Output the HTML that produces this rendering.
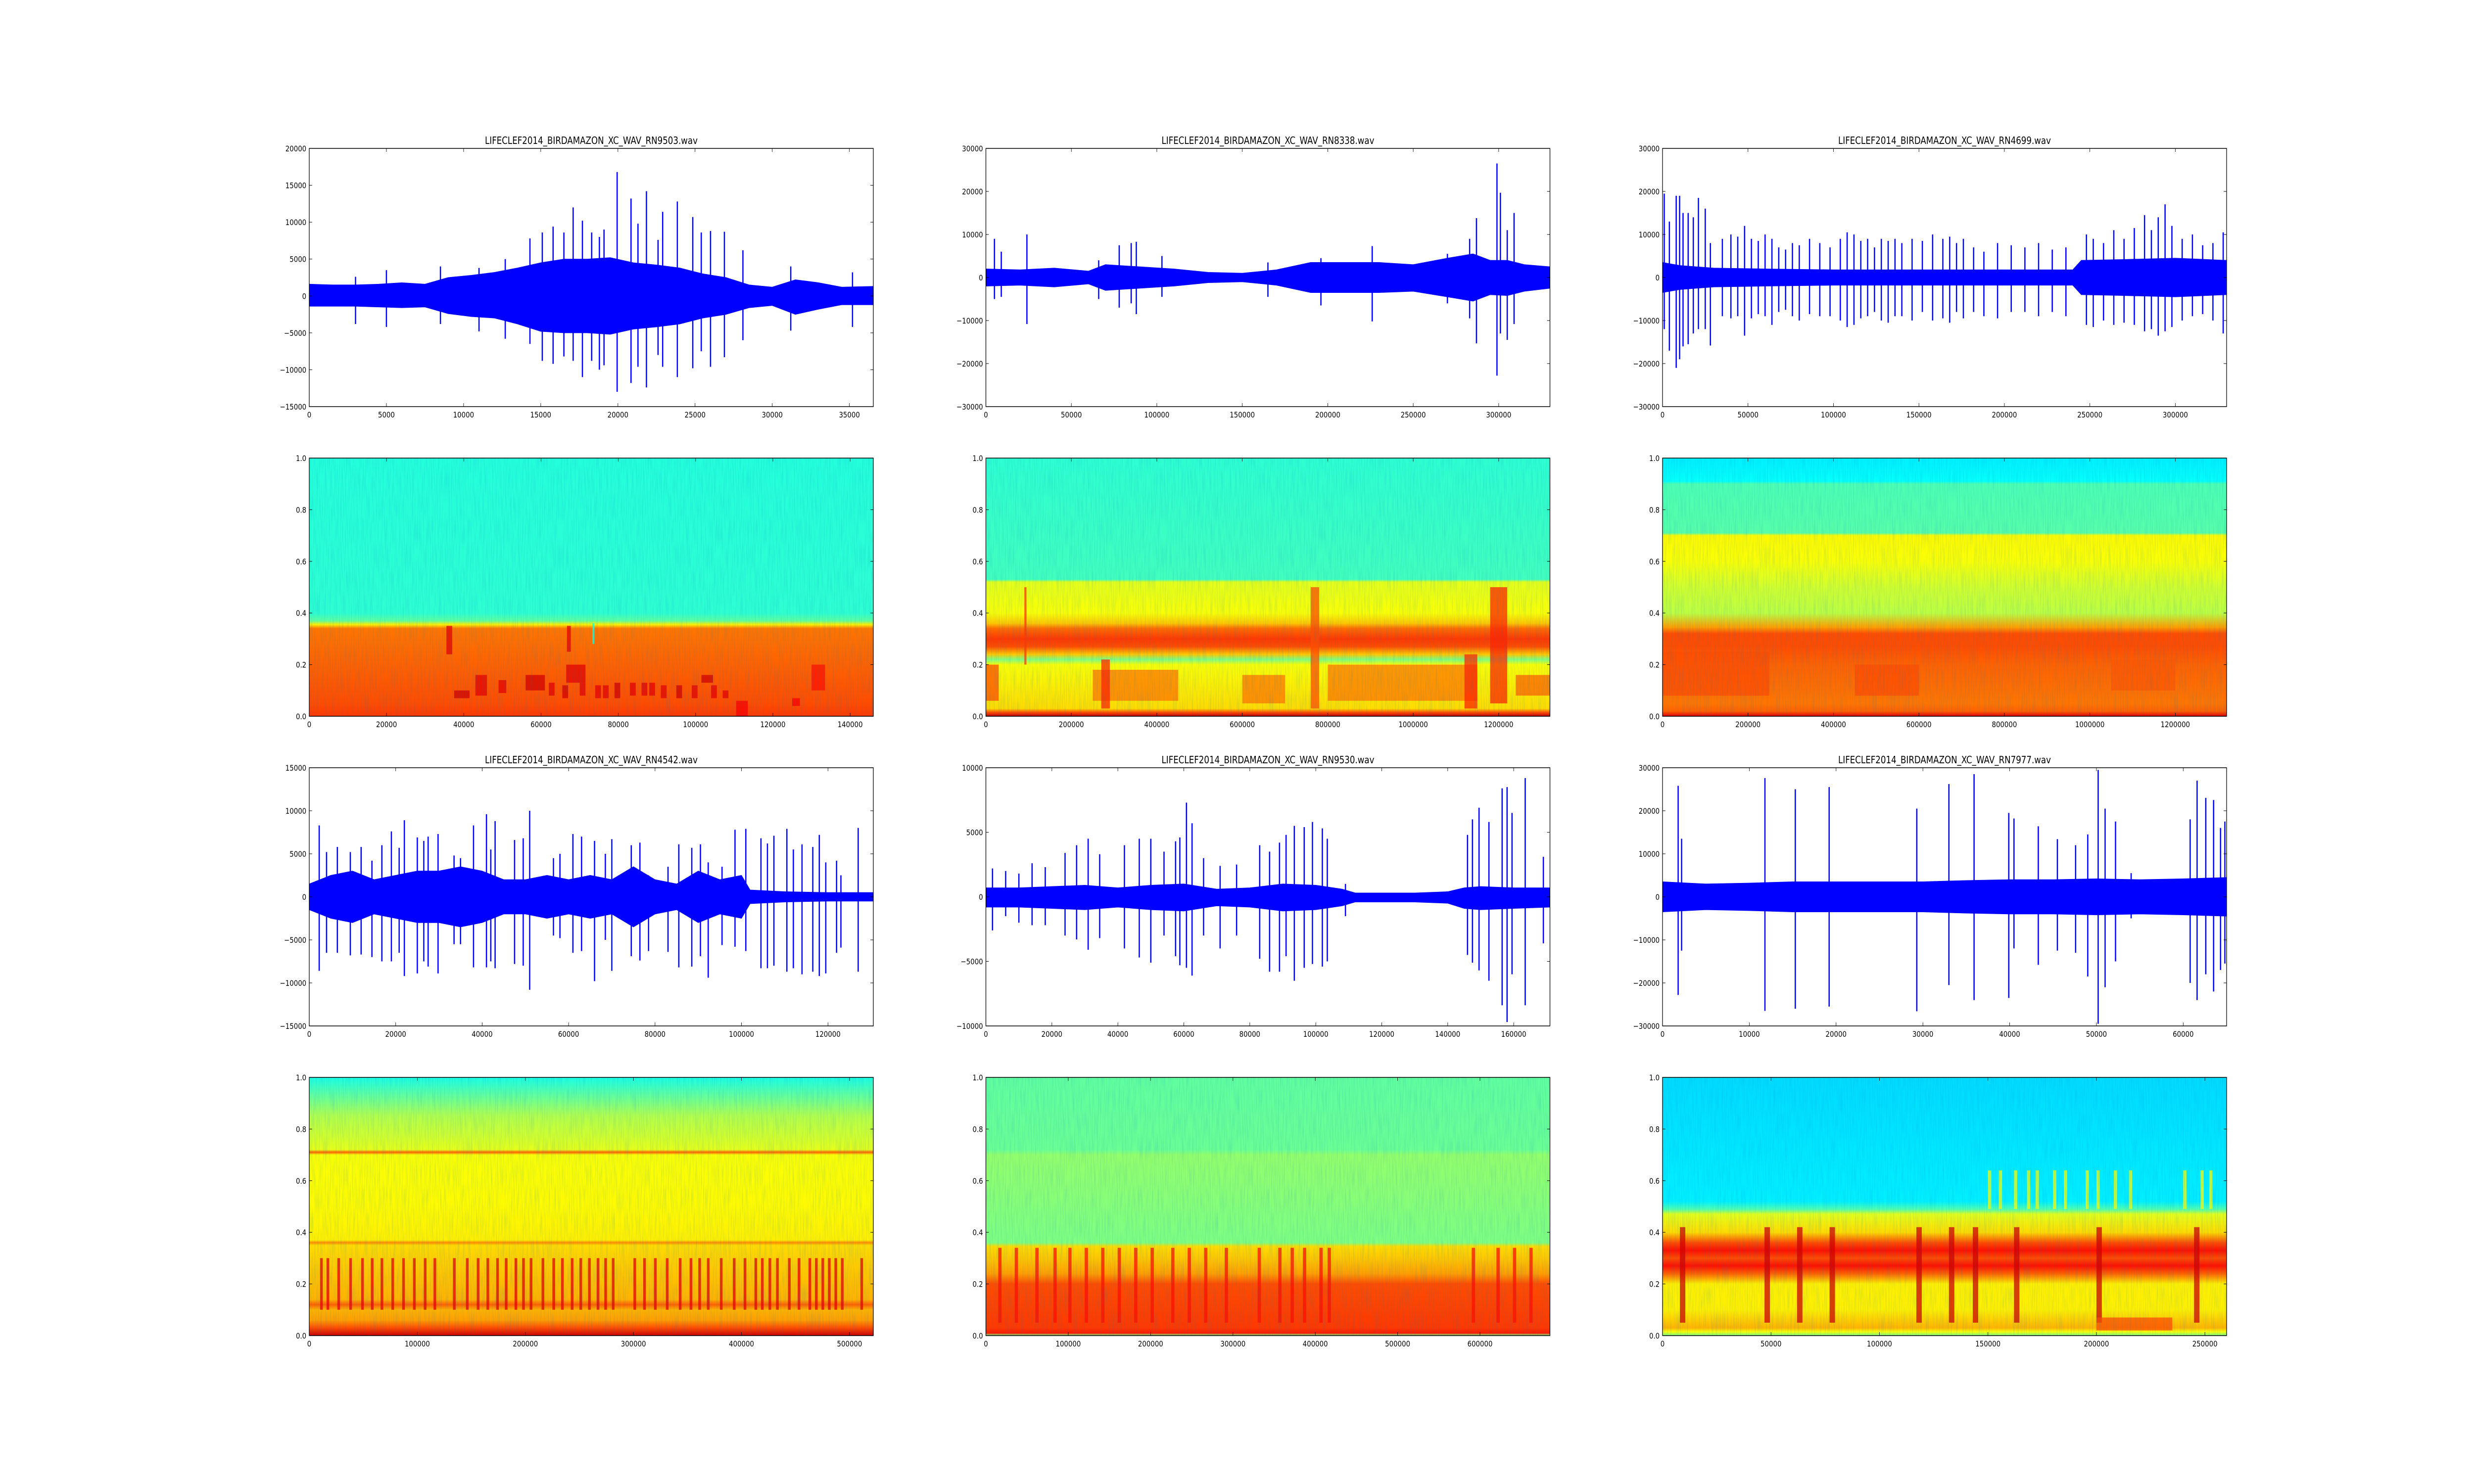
<!DOCTYPE html>
<html><head><meta charset="utf-8"><style>
html,body{margin:0;padding:0;background:#fff;overflow:hidden;width:100vw;height:100vh}
svg{display:block;width:100vw;height:100vh}
text{font-family:"DejaVu Sans","Liberation Sans",sans-serif;fill:#000}
</style></head>
<body>
<svg id="fig" xmlns="http://www.w3.org/2000/svg" viewBox="0 0 6000 3000" preserveAspectRatio="none">
<rect width="6000" height="3000" fill="#fff"/>
<defs id="defs">
<filter id="grain" x="0" y="0" width="100%" height="100%">
<feTurbulence type="fractalNoise" baseFrequency="0.35 0.02" numOctaves="2" seed="3"/>
<feColorMatrix type="matrix" values="0 0 0 0 0  0 0 0 0 0.2  0 0 0 0 0.6  0 0 0 1.2 -0.45"/>
</filter>
</defs>
</svg>
<script>
// ---- layout ----
const COLS=[750,2391,4032], ROWS=[300,926,1552,2178], AW=1368, AH=522;

// ---- waveform data ----
const w1Title="LIFECLEF2014_BIRDAMAZON_XC_WAV_RN9503.wav";
const w1Xmax=36550, w1Ylim=[-15000,20000];
const w1XTicks=[0,5000,10000,15000,20000,25000,30000,35000];
const w1YTicks=[-15000,-10000,-5000,0,5000,10000,15000,20000];
const w1EnvX=[0,1500,3000,4500,6000,7500,9000,10500,12000,13500,15000,16500,18000,19500,21000,22500,24000,25500,27000,28500,30000,31500,33000,34500,36550];
const w1EnvTop=[1600,1500,1500,1600,1800,1600,2500,2800,3200,3800,4500,5000,5000,5200,4500,4200,3800,3000,2500,1500,1200,2200,1800,1200,1300];
const w1EnvBot=[-1400,-1400,-1400,-1500,-1600,-1500,-2400,-2800,-3000,-3800,-4800,-5000,-5000,-5200,-4500,-4200,-3800,-3000,-2500,-1600,-1300,-2500,-1800,-1200,-1200];
const w1SpX=[3000,5000,8500,11000,12700,14300,15100,15800,16500,17100,17700,18300,18800,19100,19950,20850,21300,21850,22600,22900,23850,24850,25400,26000,26900,28100,31200,35200];
const w1SpTop=[2600,3500,4000,3800,5000,7800,8600,9400,8600,12000,10200,8600,8000,9000,16800,13200,9800,14200,7600,11400,12800,10700,8600,8800,8700,6200,4000,3200];
const w1SpBot=[-3800,-4200,-3800,-4800,-5800,-6500,-8800,-9200,-8200,-8800,-11000,-8800,-10000,-9400,-13000,-11800,-9600,-12400,-8000,-9600,-11000,-9800,-7500,-9600,-8300,-6000,-4700,-4200];

const w2Title="LIFECLEF2014_BIRDAMAZON_XC_WAV_RN8338.wav";
const w2Xmax=330000, w2Ylim=[-30000,30000];
const w2XTicks=[0,50000,100000,150000,200000,250000,300000];
const w2YTicks=[-30000,-20000,-10000,0,10000,20000,30000];
const w2EnvX=[0,20000,40000,60000,70000,90000,110000,130000,150000,170000,190000,210000,230000,250000,270000,285000,295000,305000,315000,330000];
const w2EnvTop=[2000,1800,2200,1500,3000,2500,2000,1200,1000,1800,3500,3500,3500,3000,4500,5500,4000,4000,3000,2500];
const w2EnvBot=[-2000,-1800,-2200,-1500,-3000,-2500,-2000,-1200,-1000,-1800,-3500,-3500,-3500,-3200,-4500,-5500,-4000,-4200,-3200,-2500];
const w2SpX=[5000,9000,24000,66000,78000,85000,88000,103000,165000,196000,226000,270000,283000,287000,299000,301000,305000,309000];
const w2SpTop=[9000,6000,10000,4000,7500,8000,8300,5000,3500,4500,7300,5500,9000,13800,26500,19700,11000,15000];
const w2SpBot=[-5000,-4500,-10800,-5000,-7000,-6000,-8500,-4500,-4500,-6500,-10200,-6000,-9500,-15300,-22800,-13000,-14500,-10800];

const w3Title="LIFECLEF2014_BIRDAMAZON_XC_WAV_RN4699.wav";
const w3Xmax=330000, w3Ylim=[-30000,30000];
const w3XTicks=[0,50000,100000,150000,200000,250000,300000];
const w3YTicks=[-30000,-20000,-10000,0,10000,20000,30000];
const w3EnvX=[0,10000,30000,60000,100000,150000,200000,240000,245000,270000,300000,330000];
const w3EnvTop=[3500,2800,2200,2000,1800,1800,1800,1800,4000,4200,4500,4000];
const w3EnvBot=[-3500,-2800,-2200,-2000,-1800,-1800,-1800,-1800,-4000,-4200,-4500,-4000];
const w3SpX=[1000,4000,8000,10000,12000,15000,18000,21000,25000,28000,35000,40000,44000,48000,52000,56000,60000,64000,68000,72000,76000,80000,86000,92000,98000,104000,108000,112000,116000,120000,124000,128000,132000,136000,140000,146000,152000,158000,164000,168000,172000,176000,182000,188000,196000,204000,212000,220000,228000,236000,248000,252000,258000,264000,270000,276000,282000,286000,290000,294000,298000,304000,310000,316000,322000,328000];
const w3SpTop=[19500,13000,19000,19000,15000,15000,14000,18500,16000,8000,9000,10000,9500,12000,9000,8500,10000,9000,7000,6500,8000,7500,9000,8000,7000,9000,10500,10000,8500,9000,7000,9000,8500,9000,8000,9000,8500,10000,9000,9500,8000,9000,7000,6000,8000,7500,7000,8000,6500,7000,10000,9000,8000,11000,9000,11500,14500,11000,14000,17000,12000,9000,10000,7500,8000,10500];
const w3SpBot=[-12000,-17000,-21000,-19000,-16000,-15500,-13000,-12000,-12000,-15800,-9000,-9500,-9000,-13500,-9500,-8500,-9000,-11000,-8000,-7500,-9000,-10000,-8500,-9000,-9000,-10000,-11500,-11000,-9500,-9000,-8000,-10000,-10500,-9000,-9000,-10000,-8000,-10000,-9500,-10500,-8000,-9500,-8000,-9000,-9500,-8000,-8000,-9000,-8000,-9000,-11000,-11500,-10000,-11000,-10500,-11000,-12500,-12000,-13500,-12500,-11500,-10000,-9000,-8500,-10000,-13000];

const w4Title="LIFECLEF2014_BIRDAMAZON_XC_WAV_RN4542.wav";
const w4Xmax=130500, w4Ylim=[-15000,15000];
const w4XTicks=[0,20000,40000,60000,80000,100000,120000];
const w4YTicks=[-15000,-10000,-5000,0,5000,10000,15000];
const w4EnvX=[0,5000,10000,15000,20000,25000,30000,35000,40000,45000,50000,55000,60000,65000,70000,75000,80000,85000,90000,95000,100000,102000,110000,120000,130500];
const w4EnvTop=[1500,2500,3000,2000,2500,3000,3000,3500,3000,2000,2000,2500,2000,2500,2000,3500,2000,1500,3000,2000,2500,800,600,500,500];
const w4EnvBot=[-1500,-2500,-3000,-2000,-2500,-3000,-3000,-3500,-3000,-2000,-2000,-2500,-2000,-2500,-2000,-3500,-2000,-1500,-3000,-2000,-2500,-800,-600,-500,-500];
const w4SpX=[2300,4000,6500,9500,12000,14500,16800,19000,20800,22000,25000,26500,27500,29800,33500,35000,38000,41000,42000,43000,47500,49500,51000,56500,58000,61000,63000,66000,68500,70000,74500,76500,78500,83000,85500,88500,90500,92300,95500,98500,101000,104500,106000,107500,110500,112000,114000,116500,118000,119500,122000,123000,127000];
const w4SpTop=[8300,5200,5800,5200,5800,4200,6000,7600,5700,8900,6900,6500,7000,7300,4800,4500,8300,9600,5500,8800,6600,6800,10000,4500,5000,7300,7000,6500,5000,6700,6000,6300,2500,3500,6100,5700,6100,4000,3500,7800,7900,6800,6200,7100,7900,5500,6100,5800,7200,4000,4200,2500,8000];
const w4SpBot=[-8600,-6500,-6500,-6800,-6700,-7000,-7500,-7500,-6500,-9200,-8900,-7500,-8100,-8900,-5500,-5500,-8200,-8200,-7500,-8300,-7800,-8000,-10800,-4500,-4800,-6500,-6300,-9800,-5000,-8600,-6900,-7400,-6300,-6400,-8200,-8100,-6900,-9400,-5600,-5800,-6300,-8300,-8300,-8000,-8700,-8300,-9000,-8700,-9200,-8900,-6500,-5900,-8700];

const w5Title="LIFECLEF2014_BIRDAMAZON_XC_WAV_RN9530.wav";
const w5Xmax=171000, w5Ylim=[-10000,10000];
const w5XTicks=[0,20000,40000,60000,80000,100000,120000,140000,160000];
const w5YTicks=[-10000,-5000,0,5000,10000];
const w5EnvX=[0,10000,20000,30000,40000,50000,60000,70000,80000,90000,100000,108000,112000,120000,130000,140000,145000,150000,160000,171000];
const w5EnvTop=[700,700,800,900,700,900,1000,600,700,1000,900,600,300,300,300,400,700,800,700,700];
const w5EnvBot=[-800,-800,-900,-1000,-800,-1000,-1100,-700,-800,-1100,-1000,-700,-400,-400,-400,-500,-900,-1000,-900,-800];
const w5SpX=[2000,6000,10000,14000,18000,24000,27500,31000,34500,42000,46500,50000,54000,57500,58800,60800,62500,66000,71000,76000,83000,86000,89000,91000,93500,96500,99000,102000,103500,109000,146000,147500,149500,152500,156500,158000,159500,163500,169000];
const w5SpTop=[2200,2000,1800,2600,2300,3400,4000,4500,3300,4000,4500,4500,3500,4300,4600,7300,5700,3000,2400,2500,4000,3500,4200,4800,5500,5400,5800,5300,4500,1000,4800,6000,6900,5800,8400,8500,6500,9200,3100];
const w5SpBot=[-2600,-1500,-2000,-2200,-2200,-3000,-3300,-4100,-3200,-4000,-4700,-5100,-3000,-4600,-5300,-5500,-6100,-3000,-4000,-3000,-4800,-5800,-5800,-4600,-6500,-5500,-5200,-5400,-5000,-1500,-4500,-5100,-5700,-6500,-8400,-9700,-6000,-8400,-3600];

const w6Title="LIFECLEF2014_BIRDAMAZON_XC_WAV_RN7977.wav";
const w6Xmax=65000, w6Ylim=[-30000,30000];
const w6XTicks=[0,10000,20000,30000,40000,50000,60000];
const w6YTicks=[-30000,-20000,-10000,0,10000,20000,30000];
const w6EnvX=[0,5000,10000,15000,20000,25000,30000,35000,40000,45000,50000,55000,60000,65000];
const w6EnvTop=[3500,3000,3200,3500,3500,3500,3500,3800,4000,4000,4200,4000,4200,4500];
const w6EnvBot=[-3500,-3000,-3200,-3500,-3500,-3500,-3500,-3800,-4000,-4000,-4200,-4000,-4200,-4500];
const w6SpX=[1800,2200,11800,15300,19200,29300,33000,35900,39900,40500,43300,45500,47600,49000,50200,51000,52200,54000,60800,61600,62600,63500,64300,64800];
const w6SpTop=[25800,13500,27600,25000,25500,20500,26200,28500,19500,18200,16400,13400,12000,14500,29500,20500,17500,5500,18000,27000,23000,22500,16000,17500];
const w6SpBot=[-22800,-12500,-26500,-26000,-25500,-26600,-20500,-24000,-23500,-12000,-15800,-12500,-13000,-18500,-29500,-21000,-15000,-5000,-20000,-24000,-18000,-22000,-17000,-15500];

// ---- spectrogram data ----
const sYTicks=[0,0.2,0.4,0.6,0.8,1.0];
const s1Xmax=146000, s1XTicks=[0,20000,40000,60000,80000,100000,120000,140000];
const s1ProfF=[0,0.05,0.2,0.34,0.355,0.37,0.4,1];
const s1ProfV=[0.82,0.8,0.78,0.76,0.64,0.47,0.42,0.41];
const s1Ev=[[35500,1500,0.24,0.35,0.9],[37500,4000,0.07,0.1,0.92],[43000,3000,0.08,0.16,0.9],[49000,2000,0.09,0.14,0.9],[56000,5000,0.1,0.16,0.92],[62000,1500,0.08,0.13,0.9],[65500,1500,0.07,0.12,0.92],[66500,5000,0.13,0.2,0.9],[66700,1000,0.25,0.35,0.9],[70000,1500,0.08,0.13,0.9],[73300,500,0.28,0.36,0.4],[74000,1500,0.07,0.12,0.9],[76000,1500,0.07,0.12,0.9],[79000,1500,0.07,0.13,0.92],[83000,1500,0.08,0.13,0.9],[86000,1500,0.08,0.13,0.9],[88000,1500,0.08,0.13,0.9],[91000,1500,0.07,0.12,0.9],[95000,1500,0.07,0.12,0.92],[99000,1500,0.07,0.12,0.9],[101500,3000,0.13,0.16,0.92],[104000,1500,0.07,0.12,0.9],[107000,1500,0.07,0.1,0.9],[110500,3000,0,0.06,0.88],[125000,2000,0.04,0.07,0.88],[130000,3500,0.1,0.2,0.86]];

const s2Xmax=1320000, s2XTicks=[0,200000,400000,600000,800000,1000000,1200000];
const s2ProfF=[0,0.015,0.03,0.2,0.22,0.24,0.27,0.3,0.34,0.36,0.4,0.52,0.53,1];
const s2ProfV=[0.93,0.8,0.66,0.62,0.5,0.68,0.8,0.82,0.77,0.68,0.62,0.6,0.44,0.42];
const s2Ev=[[0,30000,0.06,0.2,0.8],[250000,200000,0.06,0.18,0.76],[270000,20000,0.03,0.22,0.84],[600000,100000,0.05,0.16,0.76],[760000,20000,0.03,0.5,0.8],[800000,350000,0.06,0.2,0.76],[1120000,30000,0.03,0.24,0.84],[1180000,40000,0.05,0.5,0.84],[1240000,80000,0.08,0.16,0.78],[90000,5000,0.2,0.5,0.82]];

const s3Xmax=1320000, s3XTicks=[0,200000,400000,600000,800000,1000000,1200000];
const s3ProfF=[0,0.02,0.05,0.2,0.27,0.32,0.345,0.4,0.5,0.6,0.7,0.71,0.9,0.91,1];
const s3ProfV=[0.9,0.78,0.76,0.78,0.8,0.8,0.72,0.56,0.58,0.62,0.63,0.46,0.45,0.38,0.36];
const s3Ev=[[0,250000,0.08,0.25,0.8],[450000,150000,0.08,0.2,0.8],[1050000,150000,0.1,0.22,0.79]];

const s4Xmax=522000, s4XTicks=[0,100000,200000,300000,400000,500000];
const s4ProfF=[0,0.03,0.06,0.1,0.12,0.14,0.2,0.3,0.35,0.36,0.37,0.5,0.7,0.71,0.72,0.85,0.95,1];
const s4ProfV=[0.92,0.8,0.72,0.7,0.78,0.7,0.69,0.67,0.66,0.74,0.64,0.63,0.62,0.78,0.6,0.55,0.45,0.4];
const s4Calls=[10000,16000,26000,37000,48000,57000,66000,76000,86000,96000,106000,115000,133000,145000,155000,164000,173000,181000,190000,197000,204000,215000,225000,233000,242000,250000,258000,266000,273000,280000,300000,309000,319000,330000,342000,352000,360000,368000,380000,392000,402000,412000,418000,425000,432000,443000,452000,462000,468000,474000,480000,486000,492000,510000];

const s5Xmax=685000, s5XTicks=[0,100000,200000,300000,400000,500000,600000];
const s5ProfF=[0,0.01,0.03,0.2,0.24,0.3,0.345,0.36,0.4,0.7,0.72,1];
const s5ProfV=[0.5,0.85,0.82,0.8,0.72,0.68,0.66,0.5,0.5,0.52,0.48,0.47];
const s5Calls=[15000,35000,60000,82000,100000,120000,140000,160000,180000,200000,225000,245000,265000,290000,330000,355000,370000,385000,405000,415000,590000,620000,640000,660000];

const s6Xmax=260000, s6XTicks=[0,50000,100000,150000,200000,250000];
const s6ProfF=[0,0.015,0.03,0.1,0.2,0.24,0.27,0.3,0.33,0.36,0.4,0.47,0.49,0.52,1];
const s6ProfV=[0.5,0.62,0.7,0.64,0.64,0.78,0.86,0.8,0.86,0.8,0.66,0.6,0.45,0.36,0.34];
const s6Calls=[8000,47000,62000,77000,117000,132000,143000,162000,200000,245000];
const s6HighCalls=[150000,155000,162000,168000,172000,180000,185000,195000,200000,208000,215000,240000,248000,252000];

// ---- helpers ----
const NS="http://www.w3.org/2000/svg";
const fig=document.getElementById('fig'), defs=document.getElementById('defs');
function mk(tag,attrs,parent){const e=document.createElementNS(NS,tag);for(const k in attrs)e.setAttribute(k,attrs[k]);(parent||fig).appendChild(e);return e;}
function jet(v){const c=x=>Math.max(0,Math.min(1,x));const r=c(1.5-Math.abs(4*v-3)),g=c(1.5-Math.abs(4*v-2)),b=c(1.5-Math.abs(4*v-1));return 'rgb('+Math.round(r*255)+','+Math.round(g*255)+','+Math.round(b*255)+')';}
let gid=0;

function axes(name,x0,y0,xmax,ylim,xt,yt,title,isSpec){
  const sx=v=>x0+v/xmax*AW, sy=v=>y0+AH-(v-ylim[0])/(ylim[1]-ylim[0])*AH;
  const g=mk('g',{});
  
  
  return {g,sx,sy,x0,y0,xt,yt,title,isSpec};
}
function frame(A){
  const {g,sx,sy,x0,y0}=A;
  const r=mk('rect',{x:x0,y:y0,width:AW,height:AH,fill:'none',stroke:'#000','stroke-width':1.5},g);
  
  
  A.xt.forEach(v=>{const x=sx(v);
    mk('line',{x1:x,x2:x,y1:y0+AH,y2:y0+AH-7,stroke:'#000','stroke-width':1},g);
    mk('line',{x1:x,x2:x,y1:y0,y2:y0+7,stroke:'#000','stroke-width':1},g);
    const t=mk('text',{x:x,y:y0+AH+22,'font-size':16,'text-anchor':'middle'},g);
    
    
    t.textContent=(v<0?'\u2212':'')+Math.abs(v);});
  A.yt.forEach(v=>{const y=sy(v);
    mk('line',{x1:x0,x2:x0+7,y1:y,y2:y,stroke:'#000','stroke-width':1},g);
    mk('line',{x1:x0+AW,x2:x0+AW-7,y1:y,y2:y,stroke:'#000','stroke-width':1},g);
    const t=mk('text',{x:x0-7,y:y+6,'font-size':16,'text-anchor':'end'},g);
    
    
    t.textContent=A.isSpec?v.toFixed(1):((v<0?'\u2212':'')+Math.abs(v));});
  if(A.title){const t=mk('text',{x:x0+AW/2,y:y0-9,'font-size':20,'text-anchor':'middle'},g);
    
    
    t.textContent=A.title;}
}
function wave(name,col,row,xmax,ylim,xt,yt,title,ex,et,eb,spx,spt,spb){
  const A=axes(name,COLS[col],ROWS[row],xmax,ylim,xt,yt,title,false);
  const {g,sx,sy}=A;
  let pts=ex.map((x,i)=>sx(x)+','+sy(et[i]));
  for(let i=ex.length-1;i>=0;i--)pts.push(sx(ex[i])+','+sy(eb[i]));
  const p=mk('polygon',{points:pts.join(' '),fill:'#0000ff',stroke:'#0000ff','stroke-width':1},g);
  
  
  spx.forEach((x,i)=>{const l=mk('line',{x1:sx(x),x2:sx(x),y1:sy(spt[i]),y2:sy(spb[i]),stroke:'#0000ff','stroke-width':3},g);
    
    });
  frame(A);
}
function spec(name,col,row,xmax,xt,pf,pv,events){
  const A=axes(name,COLS[col],ROWS[row],xmax,[0,1],xt,sYTicks,null,true);
  const {g,sx,sy,x0,y0}=A;
  const id='grad'+(gid++);
  const lg=mk('linearGradient',{id:id,x1:0,y1:1,x2:0,y2:0},defs);
  pf.forEach((f,i)=>mk('stop',{offset:f,'stop-color':jet(pv[i])},lg));
  const bg=mk('rect',{x:x0,y:y0,width:AW,height:AH,fill:'url(#'+id+')'},g);
  
  
  events.forEach(e=>{const r=mk('rect',{x:sx(e[0]),y:sy(e[3]),width:Math.max(3,sx(e[0]+e[1])-sx(e[0])),height:sy(e[2])-sy(e[3]),fill:jet(e[4]),opacity:0.75},g);
    
    });
  const gr=mk('rect',{x:x0,y:y0,width:AW,height:AH,fill:'#000',filter:'url(#grain)',opacity:0.25},g);
  
  
  frame(A);
}
function callsToEv(xs,w,f0,f1,v){return xs.map(x=>[x,w,f0,f1,v]);}

wave('waveform-rn9503',0,0,w1Xmax,w1Ylim,w1XTicks,w1YTicks,w1Title,w1EnvX,w1EnvTop,w1EnvBot,w1SpX,w1SpTop,w1SpBot);
wave('waveform-rn8338',1,0,w2Xmax,w2Ylim,w2XTicks,w2YTicks,w2Title,w2EnvX,w2EnvTop,w2EnvBot,w2SpX,w2SpTop,w2SpBot);
wave('waveform-rn4699',2,0,w3Xmax,w3Ylim,w3XTicks,w3YTicks,w3Title,w3EnvX,w3EnvTop,w3EnvBot,w3SpX,w3SpTop,w3SpBot);
wave('waveform-rn4542',0,2,w4Xmax,w4Ylim,w4XTicks,w4YTicks,w4Title,w4EnvX,w4EnvTop,w4EnvBot,w4SpX,w4SpTop,w4SpBot);
wave('waveform-rn9530',1,2,w5Xmax,w5Ylim,w5XTicks,w5YTicks,w5Title,w5EnvX,w5EnvTop,w5EnvBot,w5SpX,w5SpTop,w5SpBot);
wave('waveform-rn7977',2,2,w6Xmax,w6Ylim,w6XTicks,w6YTicks,w6Title,w6EnvX,w6EnvTop,w6EnvBot,w6SpX,w6SpTop,w6SpBot);

spec('spectrogram-rn9503',0,1,s1Xmax,s1XTicks,s1ProfF,s1ProfV,s1Ev);
spec('spectrogram-rn8338',1,1,s2Xmax,s2XTicks,s2ProfF,s2ProfV,s2Ev);
spec('spectrogram-rn4699',2,1,s3Xmax,s3XTicks,s3ProfF,s3ProfV,s3Ev);
spec('spectrogram-rn4542',0,3,s4Xmax,s4XTicks,s4ProfF,s4ProfV,callsToEv(s4Calls,2500,0.1,0.3,0.9));
spec('spectrogram-rn9530',1,3,s5Xmax,s5XTicks,s5ProfF,s5ProfV,callsToEv(s5Calls,4000,0.05,0.34,0.86));
spec('spectrogram-rn7977',2,3,s6Xmax,s6XTicks,s6ProfF,s6ProfV,callsToEv(s6Calls,2500,0.05,0.42,0.92).concat(callsToEv(s6HighCalls,1500,0.49,0.64,0.62)).concat([[200000,35000,0.02,0.07,0.8]]));
</script>
</body></html>
